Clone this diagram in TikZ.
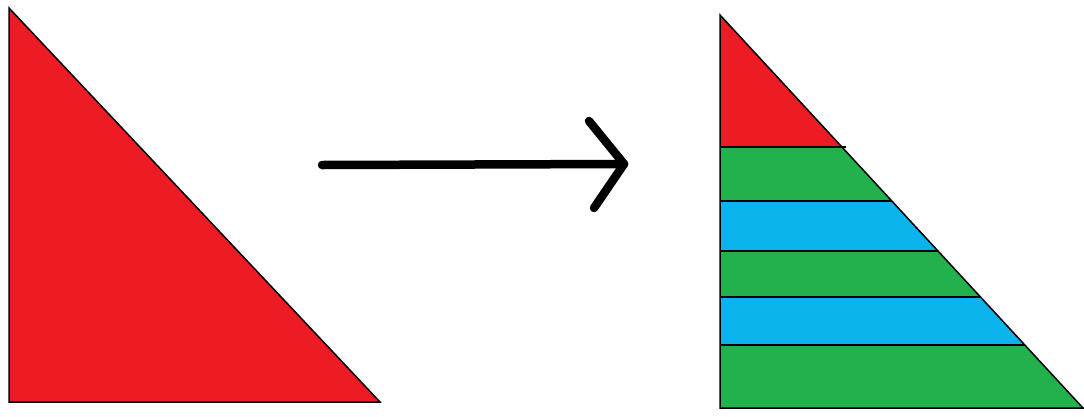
\documentclass[tikz,border=0pt]{standalone}
\definecolor{pred}{HTML}{ED1C24}
\definecolor{pgreen}{HTML}{22B14C}
\definecolor{pblue}{HTML}{0AB3EB}
\begin{document}
\begin{tikzpicture}[x=1pt,y=-1pt,
  outline/.style={draw=black,line width=1.5pt,line join=miter},
  sep/.style={draw=black,line width=1.5pt},
  arrowline/.style={draw=black,line width=8.5pt,line cap=round,line join=round}]
\useasboundingbox[fill=white] (0,0) rectangle (1084,416);
% left triangle
\fill[pred] (9,8) -- (9,402) -- (380,402) -- cycle;
\draw[outline] (9,8) -- (9,402) -- (380,402) -- cycle;
% arrow
\coordinate (as) at (322,165);
\coordinate (at) at (624,164);
\coordinate (au) at (589,121);
\coordinate (ad) at (594,208);
\draw[arrowline] (as) -- (at);
\draw[arrowline] (au) -- (at) -- (ad);
% right triangle
\coordinate (A) at (720,15);
\coordinate (B) at (720,408);
\coordinate (C) at (1083,408);
\begin{scope}
\clip (A) -- (B) -- (C) -- cycle;
\fill[pred] (700,0) rectangle (1084,147);
\fill[pgreen] (700,147) rectangle (1084,201);
\fill[pblue] (700,201) rectangle (1084,251);
\fill[pgreen] (700,251) rectangle (1084,297);
\fill[pblue] (700,297) rectangle (1084,345);
\fill[pgreen] (700,345) rectangle (1084,416);
\draw[sep] (700,201) -- (1084,201);
\draw[sep] (700,251) -- (1084,251);
\draw[sep] (700,297) -- (1084,297);
\draw[sep] (700,345) -- (1084,345);
\end{scope}
\draw[sep] (720,147) -- (846,147);
\draw[outline] (A) -- (B) -- (C) -- cycle;
\end{tikzpicture}
\end{document}
